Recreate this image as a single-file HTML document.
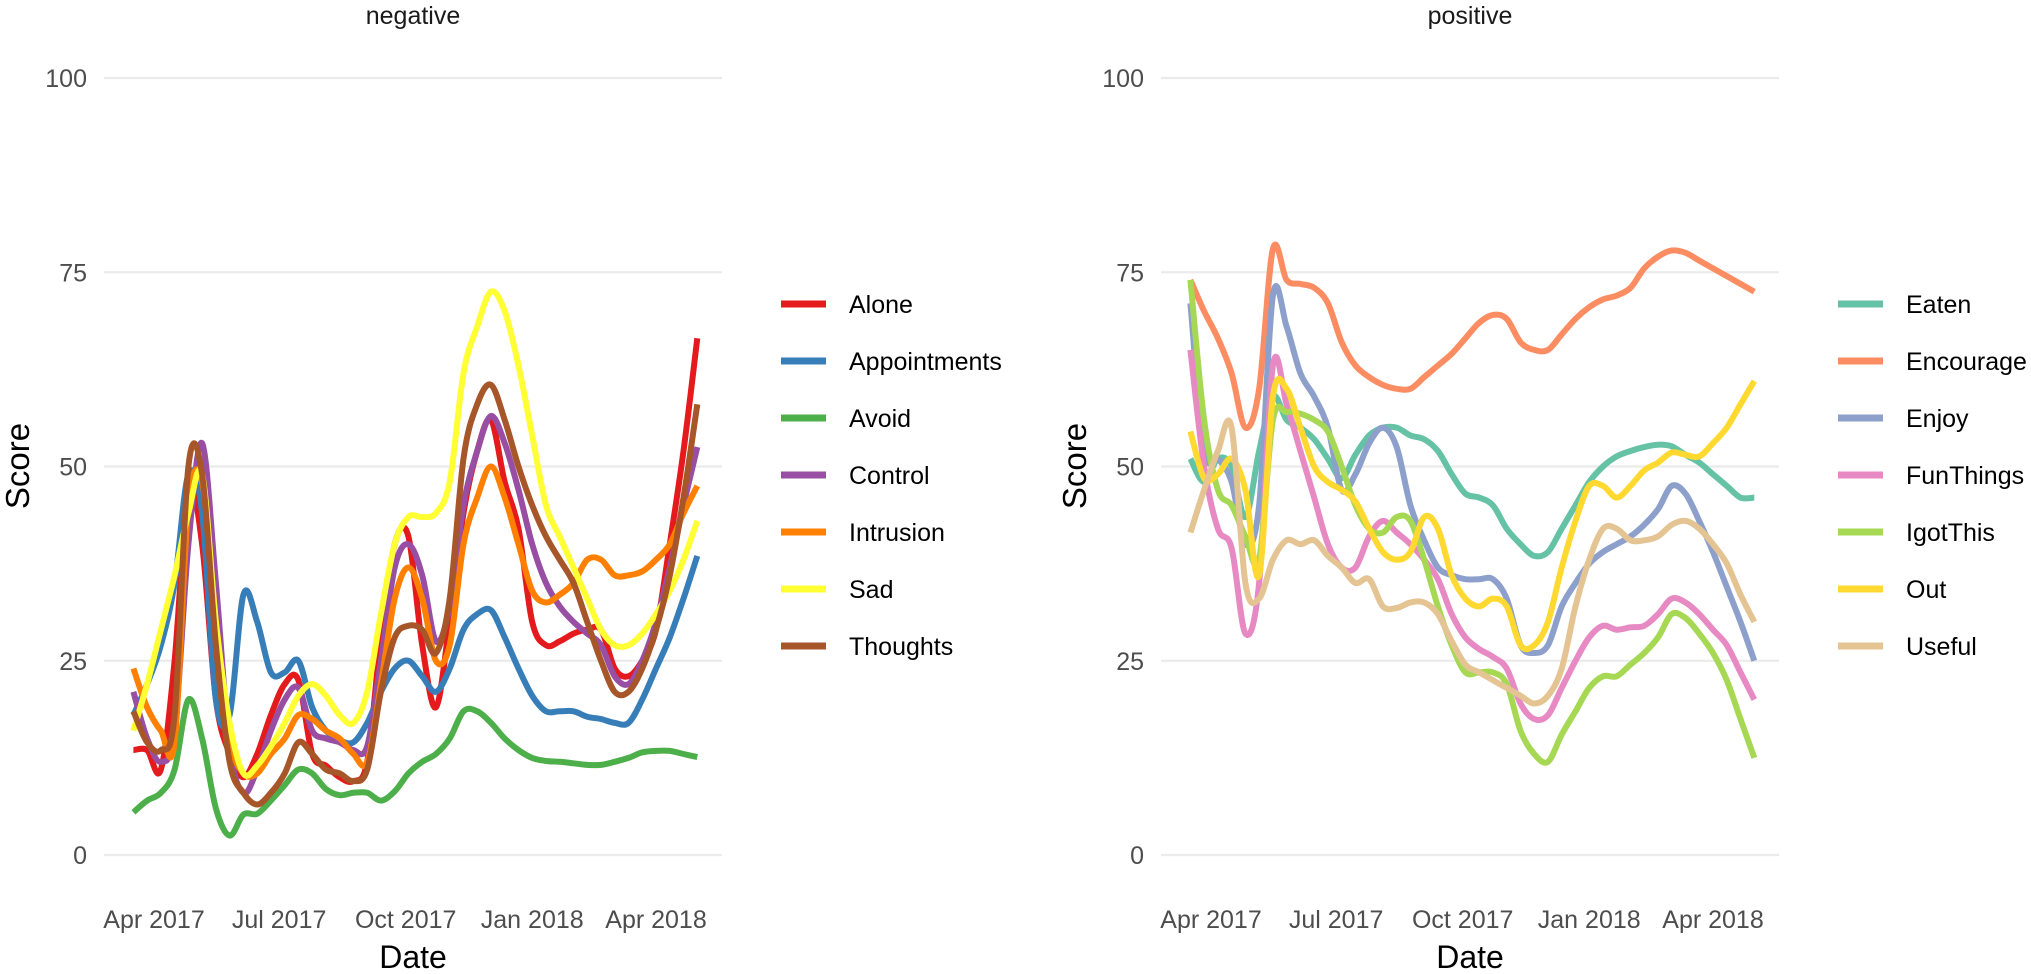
<!DOCTYPE html>
<html><head><meta charset="utf-8">
<style>
html,body{margin:0;padding:0;background:#fff;}
svg{display:block;font-family:"Liberation Sans",Arial,sans-serif;}
</style></head>
<body>
<svg id="chart" width="2031" height="974" viewBox="0 0 2031 974" xmlns="http://www.w3.org/2000/svg">
<rect width="2031" height="974" fill="#fff"/>
</svg>
<script>
// ---- data ----
const dayStep = 10;           // days between samples
const firstDay = -15;         // days relative to Apr 1 2017
const xTickLabels = ["Apr 2017","Jul 2017","Oct 2017","Jan 2018","Apr 2018"];
const xTickDays = [0, 91, 183, 275, 365];
const yTicks = [0, 25, 50, 75, 100];
const panelTitles = ["negative","positive"];

const negNames = ["Alone","Appointments","Avoid","Control","Intrusion","Sad","Thoughts"];
const negColors = ["#E41A1C","#377EB8","#4DAF4A","#984EA3","#FF7F00","#FFFF33","#A65628"];
const alone = [13.5,13.5,11,25,47,40,20,13,10,13,18,22,22.5,13,11.5,10,9.5,12,28,40,41,27,19,30,44,52,56,48,42,30,27,27.5,28.5,29,29,24,23,25,29,40,52,66.5];
const appointments = [18,22,27,35,49,44,20,18,33.5,30,23.5,23.5,25,19,16,14.8,14.5,17,21,24,25,23,21,24,29,31,31.5,28,24,20.5,18.5,18.5,18.5,17.8,17.5,17,17,20,24,28,33,38.5];
const avoid = [5.5,7,8,11,20,15,6,2.5,5.2,5.3,7,9,11,10.5,8.5,7.7,8,8,7,8.2,10.5,12,13,15,18.5,18.5,17,15,13.5,12.5,12.1,12,11.8,11.6,11.6,12,12.5,13.2,13.4,13.4,13,12.6];
const control = [21,15,12,16,40,53,35,14,8,11,16,20,21.5,16,15,14.5,13.5,14,25,37,40,36,27.5,32,45,52,56.5,53,47,40,35,32,30,28.5,27,23,22,25,30,37,45,52.5];
const intrusion = [24,19,16,14.5,45,48,30,15,10.5,10.5,13,15,18,17.5,16,15,13,12,22,33,37,33,25,27,40,46,50,46,40,34,32.5,33.5,35,38,38,36,36,36.5,38,40,44,47.5];
const sad = [16,22,29,36,44,49,30,17,10.5,11.5,14,17,20.5,22,20.5,18,17,21,31,40,43.5,43.5,44,48,62,68,72.5,70,63,54,45,41,37,33,29,27,27,28.5,31,34,38,43];
const thoughts = [18.5,14.5,13.5,18,50,49,27,12,8,6.5,8,10.5,14.5,13,11,10.5,9.5,11,21,28,29.5,29,26,33,51,58,60.5,56,50,45,41,38,35,30,25,21,21,24,29,36,46,58];

const posNames = ["Eaten","Encourage","Enjoy","FunThings","IgotThis","Out","Useful"];
const posColors = ["#66C2A5","#FC8D62","#8DA0CB","#E78AC3","#A6D854","#FFD92F","#E5C494"];
const eaten = [51,48,51,50,43.5,52,59,56,55,53.5,51,48.5,51.5,54,55,55,54,53.5,52,49,46.5,46,45,42,40,38.5,39,42,45,48,50,51.3,52,52.5,52.8,52.6,51.5,50.5,49,47.5,46,46];
const encourage = [74,70,66.5,62,55,60,78,74,73.5,73,71,66,63,61.5,60.5,60,60,61.5,63,64.5,66.5,68.5,69.5,69,66,65,65,67,69,70.5,71.5,72,73,75.5,77,77.8,77.5,76.5,75.5,74.5,73.5,72.5];
const enjoy = [71,52,51,48,40,45,72,68,62,59,55,47,49,53,55,52.5,45,40.5,37,36,35.5,35.5,35.5,33,27,26,27,32,35,37.5,39,40,41,42.5,44.5,47.5,46.5,43,39,34.5,30,25];
const funThings = [65,50,42,39.5,28.5,35,63,58,52,46,40,37,37,41,43,41.5,40,38,35.5,31,28,26.5,25.5,24,19.5,17.5,18,21.5,25,28,29.5,29,29.3,29.5,31,33,32.5,31,29,27,23.5,20];
const igotThis = [74,56,47,45,41,38,56,57,56.8,56,54.5,50,45,42,41.5,43.5,43,38,32,27,23.5,23.5,23.5,22,16,13,12,15.5,18.5,21.5,23,23,24.5,26,28,31,30.5,28.5,26,22.5,17.5,12.5];
const out = [54.5,48.5,49,51,47,36,59,60,55,50,48,47,45.5,42,39,38,39,43.5,42,36,33,32,33,32,27,27,30,37,43,47.5,47.5,46,47.5,49.5,50.5,51.8,51.5,51.3,53,55,58,61];
const useful = [41.5,47,52,55,35,33,38,40.5,40,40.5,38.5,37,35,35.5,32,31.8,32.5,32.5,31,27.5,24.5,23.5,22.5,21.5,20.5,19.5,20.5,24,32,38,42,42,40.5,40.5,41,42.5,43,42,40,37.5,33.5,30];

const negSeries = [alone,appointments,avoid,control,intrusion,sad,thoughts];
const posSeries = [eaten,encourage,enjoy,funThings,igotThis,out,useful];

// ---- layout ----
const NS = "http://www.w3.org/2000/svg";
const svg = document.getElementById("chart");
const panels = [
  {left:104, right:722, x0:154, names:negNames, colors:negColors, series:negSeries, legKey:781, legText:849, title:panelTitles[0], slug:"negative"},
  {left:1161, right:1779, x0:1211, names:posNames, colors:posColors, series:posSeries, legKey:1838, legText:1906, title:panelTitles[1], slug:"positive"}
];
const pxPerDay = 502/365;
const yTop = 78, yBot = 855;
function yScale(v){ return yBot - (v/100)*(yBot-yTop); }

function mk(tag, attrs, parent){
  const e = document.createElementNS(NS, tag);
  for (const k in attrs) e.setAttribute(k, attrs[k]);
  (parent||svg).appendChild(e);
  return e;
}
function smoothPath(pts){
  let d = "M" + pts[0][0].toFixed(1) + "," + pts[0][1].toFixed(1);
  for (let i = 0; i < pts.length-1; i++){
    const p0 = pts[Math.max(0,i-1)], p1 = pts[i], p2 = pts[i+1], p3 = pts[Math.min(pts.length-1,i+2)];
    const c1x = p1[0] + (p2[0]-p0[0])/6, c1y = p1[1] + (p2[1]-p0[1])/6;
    const c2x = p2[0] - (p3[0]-p1[0])/6, c2y = p2[1] - (p3[1]-p1[1])/6;
    d += " C" + c1x.toFixed(1) + "," + c1y.toFixed(1) + " " + c2x.toFixed(1) + "," + c2y.toFixed(1) + " " + p2[0].toFixed(1) + "," + p2[1].toFixed(1);
  }
  return d;
}

panels.forEach(p => {
  const xScale = d => p.x0 + d*pxPerDay;
  const g = mk("g", {});
  
  

  yTicks.forEach(t => {
    const ln = mk("line", {x1:p.left, x2:p.right, y1:yScale(t), y2:yScale(t), stroke:"#ebebeb", "stroke-width":2.2}, g);
    
    
    const tx = mk("text", {x:p.left-17, y:yScale(t)+9, "text-anchor":"end", "font-size":25, fill:"#4d4d4d"}, g);
    tx.textContent = t;
    
    
  });

  xTickLabels.forEach((lab, i) => {
    const tx = mk("text", {x:xScale(xTickDays[i]), y:928, "text-anchor":"middle", "font-size":25, fill:"#4d4d4d"}, g);
    tx.textContent = lab;
    
    
  });

  const title = mk("text", {x:(p.left+p.right)/2, y:24, "text-anchor":"middle", "font-size":25, fill:"#1a1a1a"}, g);
  title.textContent = p.title;
  
  

  const xt = mk("text", {x:(p.left+p.right)/2, y:968, "text-anchor":"middle", "font-size":32, fill:"#000"}, g);
  xt.textContent = "Date";
  
  

  const ytx = p.left - 75;
  const yt = mk("text", {x:ytx, y:466, "text-anchor":"middle", "font-size":33, fill:"#000", transform:`rotate(-90 ${ytx} 466)`}, g);
  yt.textContent = "Score";
  
  

  p.series.forEach((vals, si) => {
    const pts = vals.map((v, i) => [xScale(firstDay + i*dayStep), yScale(v)]);
    const pl = mk("path", {d:smoothPath(pts), fill:"none", stroke:p.colors[si], "stroke-width":6, "stroke-linejoin":"round", "stroke-linecap":"butt"}, g);
    
    
  });

  p.names.forEach((nm, i) => {
    const cy = 304 + i*57;
    const kl = mk("line", {x1:p.legKey, x2:p.legKey+45, y1:cy, y2:cy, stroke:p.colors[i], "stroke-width":7}, g);
    
    
    const lt = mk("text", {x:p.legText, y:cy+9, "font-size":25, fill:"#000"}, g);
    lt.textContent = nm;
    
    
  });
});
</script>
</body></html>
